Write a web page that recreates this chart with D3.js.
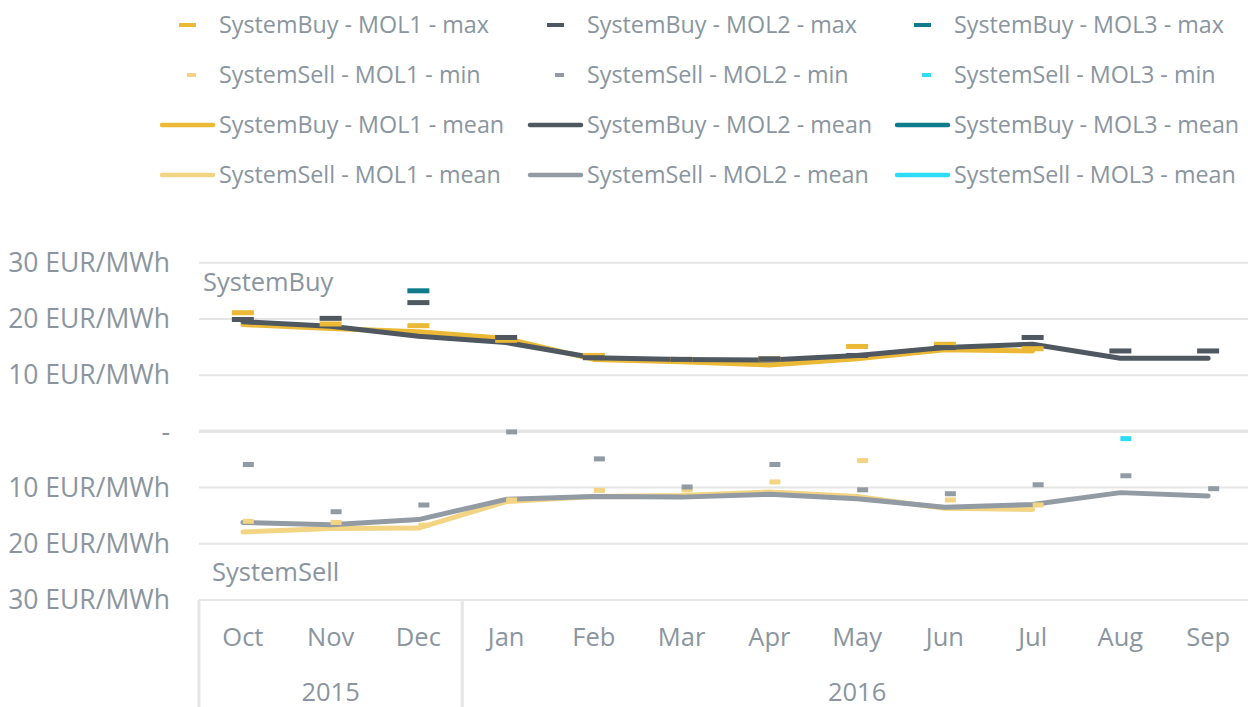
<!DOCTYPE html>
<html>
<head>
<meta charset="utf-8">
<script src="https://cdn.jsdelivr.net/npm/d3@7"></script>
<style>
  body { margin: 0; background: #fff; }
  text { font-family: "Open Sans", sans-serif; fill: #8a959f; }
</style>
</head>
<body>
<div id="chart"></div>
<script>
// Categories
const months = ['Oct', 'Nov', 'Dec', 'Jan', 'Feb', 'Mar', 'Apr', 'May', 'Jun', 'Jul', 'Aug', 'Sep']
const years = ['2015', '2016']
const yearMonths = [3, 9]

// SystemBuy (EUR/MWh)
const buyMol1Max = [21.1, 19.1, 18.8, 16.2, 13.5, 12.8, 12.9, 15.1, 15.5, 14.7, null, null]
const buyMol2Max = [19.9, 20.1, 22.9, 16.7, 13.1, 12.8, 12.9, 13.5, 14.9, 16.7, 14.3, 14.3]
const buyMol3Max = [null, null, 25.0, null, null, null, null, null, null, null, null, null]
const buyMol1Mean = [19.0, 18.3, 17.7, 16.5, 12.8, 12.4, 11.8, 12.9, 14.5, 14.3, null, null]
const buyMol2Mean = [19.5, 18.7, 16.9, 15.8, 13.1, 12.8, 12.7, 13.5, 14.9, 15.5, 13.0, 13.0]
const buyMol3Mean = [null, null, null, null, null, null, null, null, null, null, null, null]

// SystemSell (EUR/MWh, drawn below zero)
const sellMol1Min = [16.0, 16.2, 16.7, 12.2, 10.5, 10.4, 9.0, 5.2, 12.2, 13.1, null, null]
const sellMol2Min = [5.9, 14.3, 13.1, 0.1, 4.9, 9.9, 5.9, 10.4, 11.1, 9.5, 7.9, 10.2]
const sellMol3Min = [null, null, null, null, null, null, null, null, null, null, 1.3, null]
const sellMol1Mean = [17.9, 17.3, 17.2, 12.5, 11.6, 11.4, 10.8, 11.6, 13.7, 13.9, null, null]
const sellMol2Mean = [16.2, 16.6, 15.7, 12.1, 11.6, 11.7, 11.2, 12.0, 13.5, 13.0, 10.9, 11.5]
const sellMol3Mean = [null, null, null, null, null, null, null, null, null, null, null, null]

const yTicks = [-30, -20, -10, 0, 10, 20, 30]

const colors = {
  buy1: '#ebb935', buy2: '#4f5861', buy3: '#0e7c8c',
  sell1: '#f2d483', sell2: '#929ba4', sell3: '#2edcf5'
}

const width = 1248
const height = 707
const gridColor = '#e5e5e5'

const svg = d3.select('#chart')
  .append('svg')
  .attr('width', width)
  .attr('height', height)

const x = d3.scaleBand()
  .domain(months)
  .range([199, 1252])

const y = d3.scaleLinear()
  .domain([-30, 30])
  .range([600, 262.7])

const cx = m => x(m) + x.bandwidth() / 2

// Gridlines
svg.append('g')
  .selectAll('line')
  .data(yTicks)
  .join('line')
  .attr('x1', 199)
  .attr('x2', width)
  .attr('y1', d => y(d))
  .attr('y2', d => y(d))
  .attr('stroke', gridColor)
  .attr('stroke-width', d => d === 0 ? 3.5 : 2)

// Y labels
svg.append('g')
  .selectAll('text')
  .data(yTicks)
  .join('text')
  .attr('x', 170)
  .attr('y', d => y(d))
  .attr('dy', '0.35em')
  .attr('text-anchor', 'end')
  .style('font-size', '26.5px')
  .text(d => d === 0 ? '-' : `${Math.abs(d)} EUR/MWh`)

// Category axis: month labels, year groups and separators
svg.append('g')
  .selectAll('text')
  .data(months)
  .join('text')
  .attr('x', d => cx(d))
  .attr('y', 646)
  .attr('text-anchor', 'middle')
  .style('font-size', '25.5px')
  .text(d => d)

let start = 0
const yearG = svg.append('g')
years.forEach((yr, i) => {
  const x0 = x(months[start])
  const x1 = x(months[start + yearMonths[i] - 1]) + x.bandwidth()
  yearG.append('line')
    .attr('x1', x0).attr('x2', x0)
    .attr('y1', 600).attr('y2', height)
    .attr('stroke', gridColor)
    .attr('stroke-width', 3)
  yearG.append('text')
    .attr('x', (x0 + x1) / 2)
    .attr('y', 701)
    .attr('text-anchor', 'middle')
    .style('font-size', '25.5px')
    .text(yr)
  start += yearMonths[i]
})

// Mean lines
const line = d3.line()
  .defined(d => d.v != null)
  .x(d => cx(d.m))
  .y(d => y(d.v))

function drawLine (values, sign, color) {
  svg.append('path')
    .datum(months.map((m, i) => ({ m, v: values[i] == null ? null : sign * values[i] })))
    .attr('d', line)
    .attr('fill', 'none')
    .attr('stroke', color)
    .attr('stroke-width', 5)
    .attr('stroke-linecap', 'round')
    .attr('stroke-linejoin', 'round')
}

drawLine(buyMol1Mean, 1, colors.buy1)
drawLine(buyMol2Mean, 1, colors.buy2)
drawLine(buyMol3Mean, 1, colors.buy3)
drawLine(sellMol1Mean, -1, colors.sell1)
drawLine(sellMol2Mean, -1, colors.sell2)
drawLine(sellMol3Mean, -1, colors.sell3)

// Max / min markers
function drawMarks (values, sign, color, w, offset) {
  svg.append('g')
    .selectAll('rect')
    .data(months.map((m, i) => ({ m, v: values[i] })).filter(d => d.v != null))
    .join('rect')
    .attr('x', d => cx(d.m) + offset)
    .attr('y', d => y(sign * d.v) - 2.5)
    .attr('width', w)
    .attr('height', 5)
    .attr('fill', color)
}

drawMarks(buyMol1Max, 1, colors.buy1, 22, -11)
drawMarks(buyMol2Max, 1, colors.buy2, 22, -11)
drawMarks(buyMol3Max, 1, colors.buy3, 22, -11)
drawMarks(sellMol1Min, -1, colors.sell1, 11, 0)
drawMarks(sellMol2Min, -1, colors.sell2, 11, 0)
drawMarks(sellMol3Min, -1, colors.sell3, 11, 0)

// Panel labels
svg.append('text')
  .attr('x', 203).attr('y', 291)
  .style('font-size', '25.4px')
  .text('SystemBuy')
svg.append('text')
  .attr('x', 212).attr('y', 581)
  .style('font-size', '25.5px')
  .text('SystemSell')

// Legend
const legendCols = [219, 587, 954]
const legendRows = [
  { kind: 'max', keys: ['buy1', 'buy2', 'buy3'], names: ['SystemBuy - MOL1 - max', 'SystemBuy - MOL2 - max', 'SystemBuy - MOL3 - max'] },
  { kind: 'min', keys: ['sell1', 'sell2', 'sell3'], names: ['SystemSell - MOL1 - min', 'SystemSell - MOL2 - min', 'SystemSell - MOL3 - min'] },
  { kind: 'line', keys: ['buy1', 'buy2', 'buy3'], names: ['SystemBuy - MOL1 - mean', 'SystemBuy - MOL2 - mean', 'SystemBuy - MOL3 - mean'] },
  { kind: 'line', keys: ['sell1', 'sell2', 'sell3'], names: ['SystemSell - MOL1 - mean', 'SystemSell - MOL2 - mean', 'SystemSell - MOL3 - mean'] }
]

const legend = svg.append('g')
legendRows.forEach((row, r) => {
  const ly = 25 + r * 50
  row.keys.forEach((k, c) => {
    const tx = legendCols[c]
    if (row.kind === 'line') {
      legend.append('line')
        .attr('x1', tx - 57).attr('x2', tx - 6)
        .attr('y1', ly).attr('y2', ly)
        .attr('stroke', colors[k])
        .attr('stroke-width', 4.5)
        .attr('stroke-linecap', 'round')
    } else {
      const w = row.kind === 'max' ? 17 : 9
      legend.append('rect')
        .attr('x', tx - 23 - w).attr('y', ly - 2)
        .attr('width', w).attr('height', 4)
        .attr('fill', colors[k])
    }
    legend.append('text')
      .attr('x', tx).attr('y', ly)
      .attr('dy', '0.35em')
      .style('font-size', '23.3px')
      .text(row.names[c])
  })
})
</script>
</body>
</html>
